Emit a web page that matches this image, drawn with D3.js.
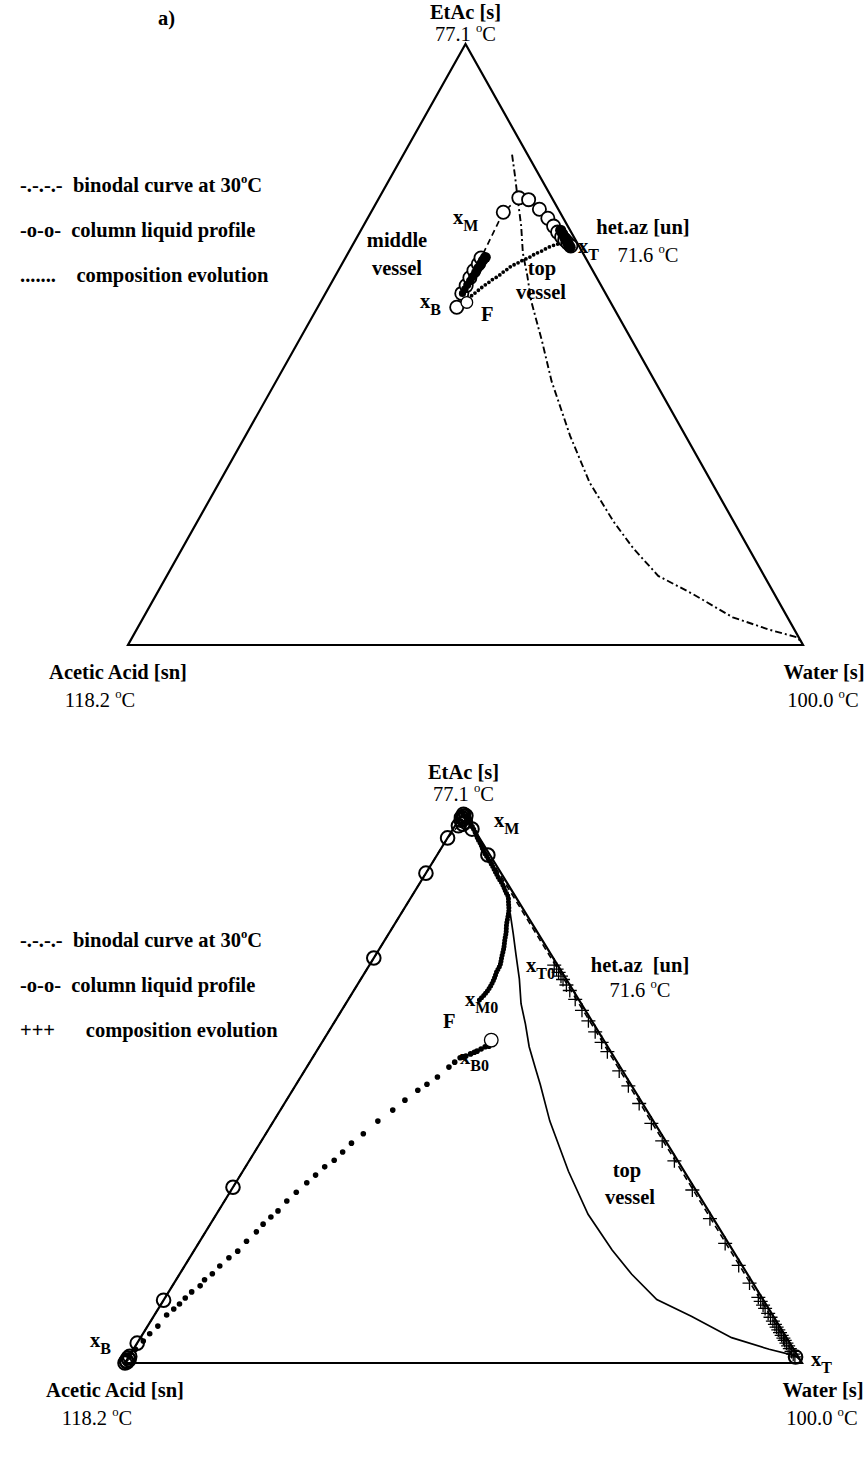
<!DOCTYPE html>
<html>
<head>
<meta charset="utf-8">
<script src="https://cdn.jsdelivr.net/npm/d3@7"></script>
<style>
  body { margin: 0; background: #fff; }
  text { font-family: "Liberation Serif", "Times New Roman", serif; fill: #000; white-space: pre; }
</style>
</head>
<body>
<svg id="chart" width="866" height="1470"></svg>
<script>
// ---- Components and labels --------------------------------------------
const components = ["EtAc [s]", "Acetic Acid [sn]", "Water [s]"];
const boilingPoints = ["77.1 ", "118.2 ", "100.0 "];
const azeotropeNames = ["het.az [un]", "het.az  [un]"];
const azeotropeTemp = "71.6 ";
const legendKeysA = ["-.-.-.-  ", "-o-o-  ", ".......    "];
const legendKeysB = ["-.-.-.-  ", "-o-o-  ", "+++      "];
const legendTexts = ["binodal curve at 30", "column liquid profile", "composition evolution"];

// Compositions are [x_EtAc, x_Water]; x_AcOH = 1 - both.
// Binodal curve at 30 °C
const binodal = [
  [0.816,0.161],[0.779,0.184],[0.741,0.207],[0.697,0.234],[0.652,0.259],
  [0.615,0.284],[0.574,0.310],[0.536,0.338],[0.505,0.361],[0.439,0.408],
  [0.348,0.481],[0.270,0.549],[0.205,0.617],[0.161,0.668],[0.115,0.728],
  [0.085,0.794],[0.046,0.873],[0.025,0.939],[0.013,0.984],[0.005,0.995]
];

// ---- Panel a) ----------------------------------------------------------
const feedA = [0.570, 0.217];
const profileA = [
  [0.562,0.206],[0.585,0.202],[0.598,0.202],[0.611,0.201],[0.623,0.201],
  [0.634,0.202],[0.644,0.201],[0.720,0.196],[0.744,0.207],[0.741,0.223],
  [0.725,0.247],[0.710,0.267],[0.697,0.282],[0.687,0.293],[0.679,0.303],
  [0.674,0.310],[0.669,0.317],[0.664,0.324]
];
// middle vessel holdup trajectory
const middleEvolA = [
  [0.585,0.203],[0.592,0.203],[0.599,0.203],[0.606,0.204],[0.613,0.204],
  [0.620,0.205],[0.627,0.205],[0.634,0.206],[0.640,0.206],[0.645,0.207]
];
// top vessel holdup trajectory
const topEvolA = [
  [0.577,0.215],[0.582,0.219],[0.587,0.222],[0.592,0.225],[0.597,0.228],
  [0.602,0.232],[0.607,0.235],[0.611,0.239],[0.616,0.243],[0.621,0.246],
  [0.626,0.250],[0.631,0.253],[0.634,0.258],[0.638,0.262],[0.641,0.266],
  [0.644,0.271],[0.648,0.275],[0.651,0.278],[0.654,0.283],[0.657,0.287],
  [0.661,0.291],[0.664,0.296],[0.666,0.300],[0.667,0.303],[0.669,0.306],
  [0.670,0.309],[0.670,0.312],[0.670,0.315]
];
const topClusterA = [
  [0.690,0.296],[0.684,0.302],[0.678,0.308],[0.672,0.314],[0.667,0.319],[0.662,0.324]
];

// ---- Panel b) ----------------------------------------------------------
const feedB = [0.586, 0.248];
const profileB = [
  [0.000,0.000],[0.002,0.002],[0.004,0.000],[0.006,0.003],[0.009,0.000],
  [0.012,0.001],[0.036,0.000],[0.114,0.000],[0.319,0.000],[0.735,0.000],
  [0.889,0.000],[0.953,0.000],[0.975,0.005],[0.978,0.010],[0.985,0.004],
  [0.988,0.006],[0.990,0.002],[0.993,0.007],[0.996,0.002],[0.992,0.004],
  [0.982,0.012],[0.969,0.028],[0.922,0.075],[0.011,0.985]
];
const middleEvolB = [
  [0.659,0.194],[0.670,0.197],[0.681,0.198],[0.695,0.197],[0.710,0.194],
  [0.722,0.193],[0.737,0.188],[0.753,0.183],[0.768,0.177],[0.782,0.172],
  [0.795,0.166],[0.809,0.161],[0.822,0.156],[0.835,0.149],[0.846,0.143],
  [0.855,0.135],[0.868,0.124],[0.880,0.112],[0.893,0.100],[0.906,0.088],
  [0.918,0.076],[0.929,0.065],[0.940,0.056],[0.953,0.044],[0.964,0.035],
  [0.975,0.025],[0.984,0.016],[0.991,0.008],[0.996,0.003]
];
const bottomEvolB = [
  [0.575,0.250],[0.574,0.245],[0.570,0.241],[0.566,0.237],[0.564,0.234],
  [0.561,0.230],[0.557,0.225],[0.555,0.221],[0.554,0.218],[0.546,0.214],
  [0.537,0.210],[0.519,0.202],[0.506,0.193],[0.495,0.185],[0.477,0.175],
  [0.459,0.166],[0.439,0.154],[0.416,0.144],[0.399,0.135],[0.383,0.130],
  [0.368,0.125],[0.356,0.117],[0.341,0.111],[0.327,0.105],[0.310,0.098],
  [0.294,0.092],[0.276,0.088],[0.265,0.083],[0.252,0.078],[0.238,0.075],
  [0.221,0.069],[0.203,0.065],[0.191,0.058],[0.176,0.052],[0.162,0.048],
  [0.151,0.042],[0.140,0.041],[0.129,0.034],[0.118,0.030],[0.107,0.027],
  [0.098,0.023],[0.087,0.018],[0.067,0.015],[0.053,0.010],[0.040,0.007],
  [0.025,0.003],[0.011,0.001]
];
const topEvolB = [
  [0.722,0.273],[0.715,0.280],[0.709,0.286],[0.702,0.293],[0.696,0.299],
  [0.686,0.309],[0.676,0.319],[0.660,0.335],[0.640,0.355],[0.621,0.374],
  [0.601,0.394],[0.582,0.413],[0.565,0.430],[0.530,0.465],[0.503,0.492],
  [0.471,0.524],[0.435,0.560],[0.403,0.592],[0.367,0.628],[0.314,0.681],
  [0.262,0.733],[0.217,0.778],[0.177,0.818],[0.145,0.850],[0.119,0.876],
  [0.112,0.883],[0.105,0.890],[0.099,0.896],[0.090,0.905],[0.083,0.912],
  [0.076,0.919],[0.070,0.925],[0.065,0.930],[0.060,0.935],[0.055,0.940],
  [0.050,0.945],[0.045,0.950],[0.041,0.954],[0.036,0.959],[0.031,0.964],
  [0.026,0.969],[0.021,0.974],[0.016,0.979],[0.011,0.984]
];

// ---- Drawing helpers ---------------------------------------------------
const svg = d3.select("#chart");
const FS = 20.5;

// Ternary projection built from two linear scales:
// horizontal = x_Water + x_EtAc/2, vertical = x_EtAc
function ternary(left, right, bottom, apex) {
  const sx = d3.scaleLinear().domain([0, 1]).range([left, right]);
  const sy = d3.scaleLinear().domain([0, 1]).range([bottom, apex]);
  return d => [sx(d[1] + d[0] / 2), sy(d[0])];
}

function rich(sel, x, y, parts, { anchor = "start", bold = false, size = FS } = {}) {
  const t = sel.append("text")
    .attr("x", x).attr("y", y)
    .attr("text-anchor", anchor)
    .attr("font-size", size)
    .attr("font-weight", bold ? "bold" : "normal");
  let shift = 0;
  parts.forEach(p => {
    const [str, kind] = Array.isArray(p) ? p : [p, ""];
    const target = kind === "sup" ? -0.42 * size : kind === "sub" ? 0.33 * size : 0;
    const ts = t.append("tspan").attr("dy", target - shift).text(str);
    if (kind === "sup") ts.attr("font-size", size * 0.62);
    if (kind === "sub") ts.attr("font-size", size * 0.78);
    shift = target;
  });
  return t;
}

function triangle(g, P) {
  const corners = [[1, 0], [0, 0], [0, 1]].map(P);
  g.append("path")
    .attr("d", d3.line()(corners) + "Z")
    .attr("fill", "none").attr("stroke", "#000").attr("stroke-width", 2.2)
    .attr("stroke-linejoin", "miter");
}

function cornerLabels(g, P, nameUp, tempUp) {
  const top = P([1, 0]), bl = P([0, 0]), br = P([0, 1]);
  rich(g, top[0], top[1] - nameUp, [components[0]], { anchor: "middle", bold: true });
  rich(g, top[0], top[1] - tempUp, [boilingPoints[0], ["o", "sup"], "C"], { anchor: "middle" });
  rich(g, bl[0] - 10, bl[1] + 34, [components[1]], { anchor: "middle", bold: true });
  rich(g, bl[0] - 28, bl[1] + 62, [boilingPoints[1], ["o", "sup"], "C"], { anchor: "middle" });
  rich(g, br[0] + 21, br[1] + 34, [components[2]], { anchor: "middle", bold: true });
  rich(g, br[0] + 20, br[1] + 62, [boilingPoints[2], ["o", "sup"], "C"], { anchor: "middle" });
}

function legend(g, y0, keys) {
  keys.forEach((k, i) => {
    const y = y0 + i * 45;
    const parts = i === 0 ? [k + legendTexts[0], ["o", "sup"], "C"] : [k + legendTexts[i]];
    rich(g, 20, y, parts, { bold: true });
  });
}

function xLabel(g, x, y, sub) {
  rich(g, x, y, ["x", [sub, "sub"]], { bold: true });
}

// ---- Panel a) ----------------------------------------------------------
{
  const g = svg.append("g");
  const P = ternary(128, 803, 645, 44);
  triangle(g, P);

  // binodal, dash-dot
  g.append("path")
    .attr("d", d3.line()(binodal.map(P)))
    .attr("fill", "none").attr("stroke", "#000").attr("stroke-width", 1.9)
    .attr("stroke-dasharray", "7,3,2,3");

  // column liquid profile: dashed line with open circles
  g.append("path")
    .attr("d", d3.line()(profileA.map(P)))
    .attr("fill", "none").attr("stroke", "#000").attr("stroke-width", 1.7)
    .attr("stroke-dasharray", "6,4");

  // top vessel trajectory (dotted)
  g.append("path")
    .attr("d", d3.line().curve(d3.curveCatmullRom)(topEvolA.map(P)))
    .attr("fill", "none").attr("stroke", "#000").attr("stroke-width", 3.8)
    .attr("stroke-linecap", "round").attr("stroke-dasharray", "0,4.4");

  g.selectAll("circle.prof").data(profileA).join("circle")
    .attr("class", "prof")
    .attr("cx", d => P(d)[0]).attr("cy", d => P(d)[1]).attr("r", 6.6)
    .attr("fill", "#fff").attr("stroke", "#000").attr("stroke-width", 1.8);

  // middle vessel trajectory (dense)
  g.selectAll("circle.mid").data(middleEvolA).join("circle")
    .attr("class", "mid")
    .attr("cx", d => P(d)[0]).attr("cy", d => P(d)[1]).attr("r", (d, i) => 3.6 + i * 0.2)
    .attr("fill", "#000");

  g.selectAll("circle.topc").data(topClusterA).join("circle")
    .attr("class", "topc")
    .attr("cx", d => P(d)[0]).attr("cy", d => P(d)[1]).attr("r", 5.6)
    .attr("fill", "#000");

  // feed
  g.append("circle").attr("cx", P(feedA)[0]).attr("cy", P(feedA)[1]).attr("r", 5.8)
    .attr("fill", "#fff").attr("stroke", "#000").attr("stroke-width", 1.3);

  cornerLabels(g, P, 25, 3);
  rich(g, 158, 25, ["a)"], { bold: true });
  legend(g, 192, legendKeysA);

  rich(g, 397, 247, ["middle"], { anchor: "middle", bold: true });
  rich(g, 397, 275, ["vessel"], { anchor: "middle", bold: true });
  xLabel(g, 453, 224, "M");
  xLabel(g, 420, 308, "B");
  rich(g, 481, 321, ["F"], { bold: true });
  rich(g, 542, 275, ["top"], { anchor: "middle", bold: true });
  rich(g, 541, 299, ["vessel"], { anchor: "middle", bold: true });
  xLabel(g, 578, 253, "T");
  rich(g, 643, 234, [azeotropeNames[0]], { anchor: "middle", bold: true });
  rich(g, 648, 262, [azeotropeTemp, ["o", "sup"], "C"], { anchor: "middle" });
}

// ---- Panel b) ----------------------------------------------------------
{
  const g = svg.append("g");
  const P = ternary(125, 802, 1363, 812);
  triangle(g, P);

  // binodal, solid
  g.append("path")
    .attr("d", d3.line()(binodal.map(P)))
    .attr("fill", "none").attr("stroke", "#000").attr("stroke-width", 1.7);

  // column liquid profile
  g.append("path")
    .attr("d", d3.line()(profileB.map(P)))
    .attr("fill", "none").attr("stroke", "#000").attr("stroke-width", 1.6)
    .attr("stroke-dasharray", "6,4");
  g.selectAll("circle.prof").data(profileB).join("circle")
    .attr("class", "prof")
    .attr("cx", d => P(d)[0]).attr("cy", d => P(d)[1]).attr("r", 6.8)
    .attr("fill", "none").attr("stroke", "#000").attr("stroke-width", 2);

  // middle vessel trajectory
  g.append("path")
    .attr("d", d3.line().curve(d3.curveCatmullRom)(middleEvolB.map(P)))
    .attr("fill", "none").attr("stroke", "#000").attr("stroke-width", 5)
    .attr("stroke-linecap", "round").attr("stroke-dasharray", "0,3");

  // bottom vessel trajectory
  g.selectAll("circle.bot").data(bottomEvolB).join("circle")
    .attr("class", "bot")
    .attr("cx", d => P(d)[0]).attr("cy", d => P(d)[1]).attr("r", 2.8)
    .attr("fill", "#000");

  // top vessel trajectory (+)
  g.selectAll("path.plus").data(topEvolB).join("path")
    .attr("class", "plus")
    .attr("transform", d => `translate(${P(d)[0]},${P(d)[1]})`)
    .attr("d", "M-7,0H7M0,-7V7")
    .attr("stroke", "#000").attr("stroke-width", 1.3).attr("fill", "none");

  // feed
  g.append("circle").attr("cx", P(feedB)[0]).attr("cy", P(feedB)[1]).attr("r", 6.8)
    .attr("fill", "#fff").attr("stroke", "#000").attr("stroke-width", 1.3);

  cornerLabels(g, P, 33, 11);
  legend(g, 947, legendKeysB);

  xLabel(g, 494, 827, "M");
  rich(g, 640, 972, [azeotropeNames[1]], { anchor: "middle", bold: true });
  rich(g, 640, 997, [azeotropeTemp, ["o", "sup"], "C"], { anchor: "middle" });
  xLabel(g, 526, 972, "T0");
  xLabel(g, 465, 1006, "M0");
  rich(g, 443, 1028, ["F"], { bold: true });
  xLabel(g, 460, 1064, "B0");
  rich(g, 627, 1177, ["top"], { anchor: "middle", bold: true });
  rich(g, 630, 1204, ["vessel"], { anchor: "middle", bold: true });
  xLabel(g, 90, 1347, "B");
  xLabel(g, 811, 1366, "T");
}
</script>
</body>
</html>
